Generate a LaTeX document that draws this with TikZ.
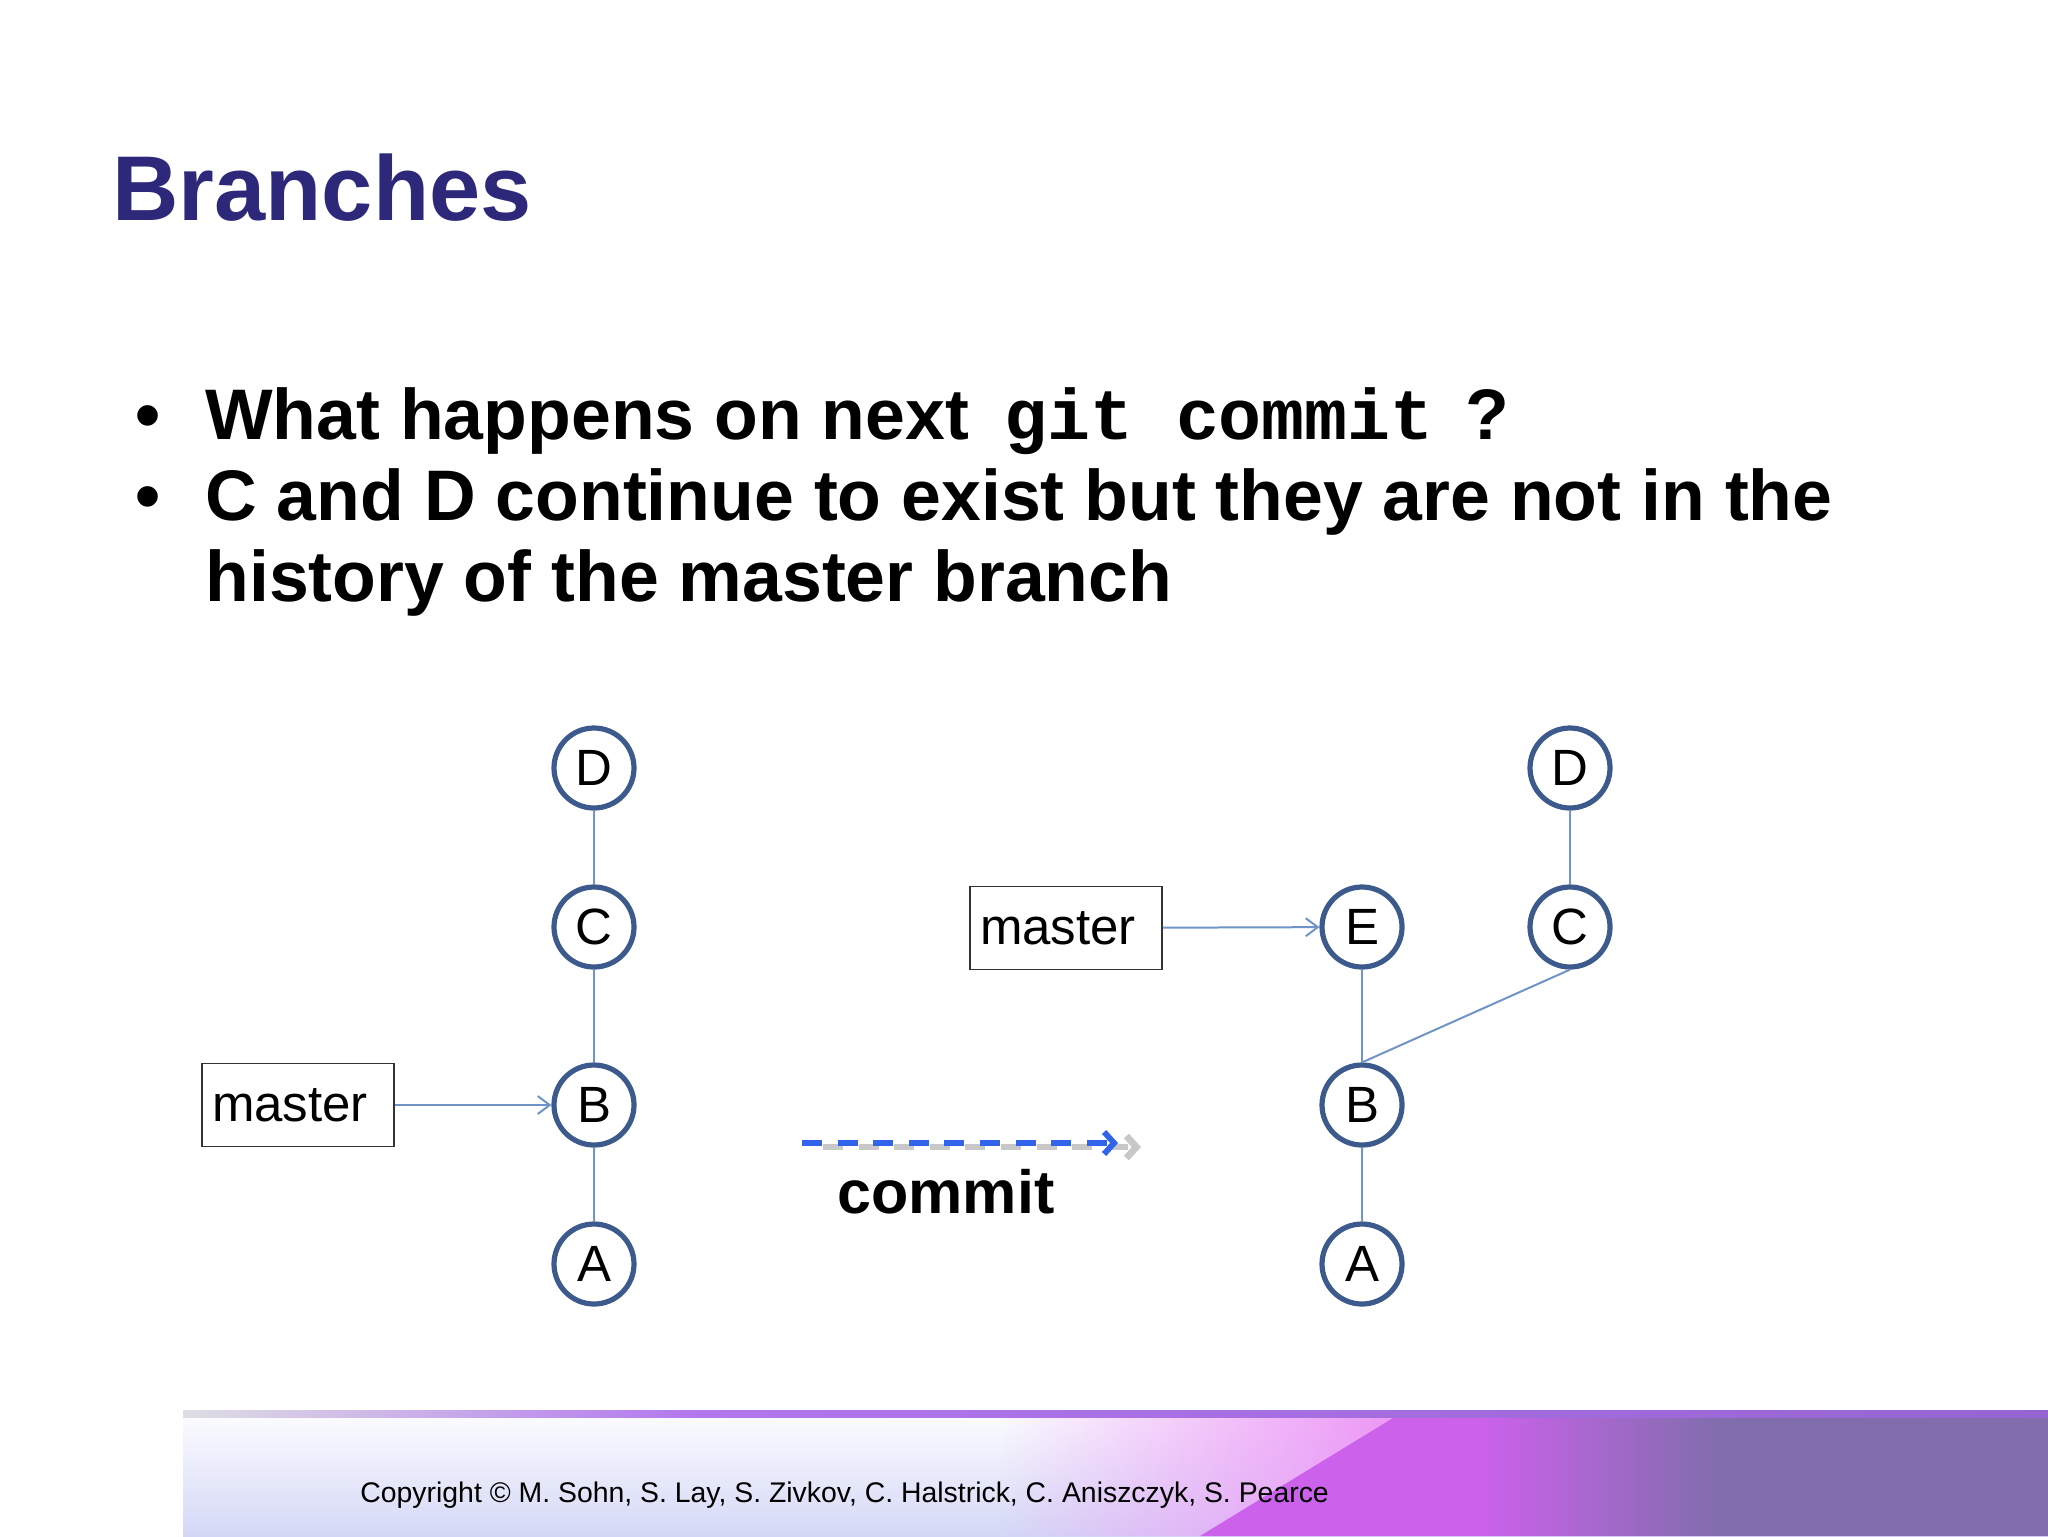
\documentclass[tikz,border=0pt]{standalone}
\usepackage{fontspec}
\setmainfont{Liberation Sans}
\setmonofont{Liberation Mono}
\usetikzlibrary{arrows.meta,fadings}
\definecolor{titleblue}{RGB}{46,40,122}
\definecolor{ringblue}{RGB}{60,90,140}
\definecolor{linkblue}{RGB}{112,148,200}
\definecolor{dashblue}{RGB}{50,100,235}
\definecolor{dashgray}{RGB}{200,200,200}
\definecolor{footlav}{RGB}{212,216,246}
\definecolor{footwhite}{RGB}{252,252,255}
\definecolor{footpink}{RGB}{236,150,246}
\definecolor{footmag}{RGB}{204,98,236}
\definecolor{footpurple}{RGB}{128,110,172}
\definecolor{linegray}{RGB}{222,222,228}
\definecolor{linepurple}{RGB}{178,118,238}
\definecolor{linedeep}{RGB}{150,100,210}
\begin{document}
\begin{tikzpicture}[x=0.5pt,y=-0.5pt,
  commitnode/.style={circle, draw=ringblue, line width=2.6pt, minimum size=40pt, inner sep=0pt, fill=white, font=\fontsize{25.5}{30}\selectfont},
  branchbox/.style={draw=black!80, line width=0.9pt, minimum height=41.5pt, text width=86pt, inner xsep=5pt, align=left, fill=white, font=\fontsize{25.5}{30}\selectfont},
  link/.style={draw=linkblue, line width=1.2pt},
  pointer/.style={draw=linkblue, line width=1pt, -{Straight Barb[length=6pt,width=9pt]}},
  bullettext/.style={anchor=base west, inner sep=0pt, font=\fontsize{35.8}{43}\selectfont\bfseries},
  bulletdot/.style={anchor=base, inner sep=0pt, font=\fontsize{35.8}{43}\selectfont\bfseries},
  commitdash/.style={dash pattern=on 10pt off 7.8pt, -{Straight Barb[length=5pt,width=11pt]}},
]
\useasboundingbox (0,0) rectangle (2048,1536);
\fill[white] (0,0) rectangle (2048,1536);

% footer band
\shade[top color=footwhite, bottom color=footlav] (183,1413) rectangle (2048,1536);
\fill[footpink, path fading=west] (1000,1413) -- (1401,1413) -- (1200,1536) -- (1000,1536) -- cycle;
\fill[footmag] (1401,1413) -- (2048,1413) -- (2048,1536) -- (1200,1536) -- cycle;
\fill[footpurple, path fading=west] (1480,1413) rectangle (1720,1536);
\fill[footpurple] (1720,1413) rectangle (2048,1536);
\shade[left color=linegray, right color=linepurple] (183,1410) rectangle (700,1417);
\shade[left color=linepurple, right color=linedeep] (700,1410) rectangle (2048,1417);
\node[anchor=base west, inner sep=0pt, font=\fontsize{14.2}{16}\selectfont] (copy) at (360,1502) {Copyright © M. Sohn, S. Lay, S. Zivkov, C. Halstrick, C. Aniszczyk, S. Pearce};

% title
\node[anchor=base west, inner sep=0pt, text=titleblue, font=\fontsize{46}{52}\selectfont\bfseries] (title) at (112,220) {Branches};

% bullets
\node[bulletdot] (b1) at (148,439) {•};
\node[bulletdot] (b2) at (148,520) {•};
\node[bullettext] (t1) at (205,439) {What happens on next\hspace{17.5pt}{\ttfamily git commit}\hspace{16pt}?};
\node[bullettext] (t2) at (205,520) {C and D continue to exist but they are not in the};
\node[bullettext] (t3) at (205,601) {history of the master branch};

% left graph
\node[commitnode] (lD) at (594,768) {D};
\node[commitnode] (lC) at (594,927) {C};
\node[commitnode] (lB) at (594,1105) {B};
\node[commitnode] (lA) at (594,1264) {A};
\draw[link] (lD) -- (lC);
\draw[link] (lC) -- (lB);
\draw[link] (lB) -- (lA);
\node[branchbox] (lm) at (298,1105) {master};
\draw[pointer] (lm) -- (lB);

% commit arrow
\coordinate (cgs) at (823,1147);
\coordinate (cge) at (1141,1147);
\coordinate (cbs) at (802,1143);
\coordinate (cbe) at (1118,1143);
\draw[commitdash, dashgray, line width=3.4pt] (cgs) -- (cge);
\draw[commitdash, dashblue, line width=2.9pt] (cbs) -- (cbe);
\node[anchor=base west, inner sep=0pt, font=\fontsize{30.5}{36}\selectfont\bfseries] (cm) at (837,1213) {commit};

% right graph
\node[commitnode] (rE) at (1362,927) {E};
\node[commitnode] (rB) at (1362,1105) {B};
\node[commitnode] (rA) at (1362,1264) {A};
\node[commitnode] (rD) at (1570,768) {D};
\node[commitnode] (rC) at (1570,927) {C};
\draw[link] (rE) -- (rB);
\draw[link] (rB) -- (rA);
\draw[link] (rD) -- (rC);
\draw[link, line width=1pt] (rC.south) -- (rB.north);
\node[branchbox] (rm) at (1066,928) {master};
\draw[pointer] (rm) -- (rE);
\end{tikzpicture}
\end{document}
